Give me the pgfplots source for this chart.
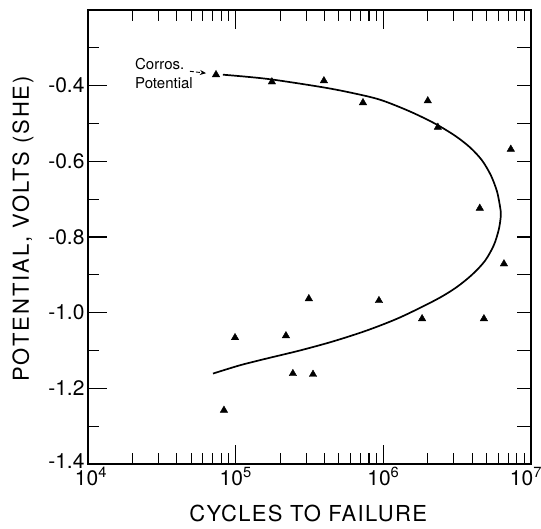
\documentclass[border=0pt]{standalone}
\usepackage{fontspec}
\setmainfont{TeX Gyre Heros}
\usepackage{pgfplots}
\pgfplotsset{compat=1.18}
\usetikzlibrary{arrows.meta}

\begin{document}
\begin{tikzpicture}
\path[use as bounding box] (-88bp,-65bp) rectangle (453bp,464bp);
\begin{axis}[
  at={(0,0)}, anchor=south west,
  width=443bp, height=454bp, scale only axis,
  xmode=log, xmin=1e4, xmax=1e7,
  ymin=-1.4, ymax=-0.2,
  xtick={1e4,1e5,1e6},
  xticklabels={\hspace*{6bp}10\textsuperscript{4},10\textsuperscript{5},10\textsuperscript{6}},
  extra x ticks={1e7},
  extra x tick labels={10\textsuperscript{7}},
  extra x tick style={xticklabel style={xshift=-5bp}},
  minor xtick={2e4,3e4,4e4,5e4,6e4,7e4,8e4,9e4,
               2e5,3e5,4e5,5e5,6e5,7e5,8e5,9e5,
               2e6,3e6,4e6,5e6,6e6,7e6,8e6,9e6},
  ytick={-1.4,-1.2,-1.0,-0.8,-0.6,-0.4},
  yticklabels={\raisebox{6bp}{-1.4},-1.2,-1.0,-0.8,-0.6,-0.4},
  minor ytick={-1.3,-1.1,-0.9,-0.7,-0.5,-0.3},
  xtick pos=both, ytick pos=left,
  tick align=inside,
  major tick length=19bp, minor tick length=11bp,
  axis line style={line width=1.5bp},
  every tick/.style={black, line width=1.1bp},
  tick label style={font=\fontsize{21bp}{24bp}\selectfont},
  xlabel={CYCLES TO FAILURE},
  ylabel={POTENTIAL, VOLTS (SHE)},
  every axis x label/.style={at={(axis description cs:0.497,-0.108)}, anchor=center,
    font=\fontsize{22bp}{24bp}\selectfont\addfontfeature{LetterSpace=6}},
  every axis y label/.style={at={(axis description cs:-0.147,0.518)}, anchor=center, rotate=90,
    font=\fontsize{22bp}{24bp}\selectfont\addfontfeature{LetterSpace=9}},
  clip=false,
]
% fitted curve
\addplot[black, line width=1.7bp, smooth, tension=0.5] coordinates {
  (8.20e4,-0.371) (1.63e5,-0.382) (3.72e5,-0.403) (5.94e5,-0.418)
  (9.48e5,-0.437) (1.51e6,-0.468) (2.23e6,-0.500) (3.05e6,-0.532)
  (3.86e6,-0.563) (4.65e6,-0.597) (5.35e6,-0.637) (5.88e6,-0.679)
  (6.16e6,-0.718) (6.25e6,-0.742) (6.06e6,-0.779) (5.61e6,-0.821)
  (4.88e6,-0.863) (3.98e6,-0.900) (3.10e6,-0.934) (2.27e6,-0.966)
  (1.29e6,-1.013) (7.74e5,-1.047) (4.56e5,-1.076) (2.72e5,-1.100)
  (1.63e5,-1.121) (1.07e5,-1.139) (7.02e4,-1.161)
};
% test points
\addplot[only marks, mark=triangle*, mark size=4.3bp, black] coordinates {
  (7.36e4,-0.371) (1.76e5,-0.390) (3.96e5,-0.387) (7.28e5,-0.445)
  (2.0e6,-0.440) (2.34e6,-0.510) (7.3e6,-0.568) (4.5e6,-0.724)
  (6.56e6,-0.871) (3.13e5,-0.963) (9.34e5,-0.968) (1.83e6,-1.016)
  (4.8e6,-1.016) (2.19e5,-1.061) (2.44e5,-1.161) (3.34e5,-1.163)
  (9.9e4,-1.066) (8.33e4,-1.258)
};
\node[font=\fontsize{15bp}{19bp}\selectfont, align=left, anchor=west, inner sep=0pt]
  at (axis cs:2.08e4,-0.367) {Corros.\\Potential};
\draw[-{Stealth[length=6bp,width=5bp]}, line width=0.9bp, dash pattern=on 4bp off 2bp]
  (axis cs:4.9e4,-0.362) -- (axis cs:6.3e4,-0.367);
\end{axis}
% right-hand ticks, all the same length
\begin{axis}[
  at={(0,0)}, anchor=south west,
  width=443bp, height=454bp, scale only axis,
  xmin=0, xmax=1, ymin=-1.4, ymax=-0.2,
  xtick=\empty,
  ytick={-1.3,-1.2,-1.1,-1.0,-0.9,-0.8,-0.7,-0.6,-0.5,-0.4,-0.3},
  yticklabels={},
  ytick pos=right, tick align=inside,
  major tick length=14bp,
  axis line style={line width=1.5bp},
  every tick/.style={black, line width=1.1bp},
]
\end{axis}
\end{tikzpicture}
\end{document}
